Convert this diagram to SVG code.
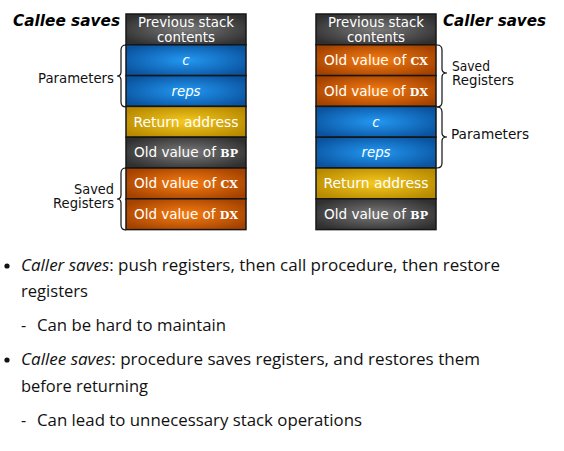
<svg xmlns="http://www.w3.org/2000/svg" width="564" height="451" viewBox="0 0 564 451">
<defs>
<radialGradient id="gGray" cx="0.5" cy="0.5" r="0.6"><stop offset="0" stop-color="#7a7a7a"/><stop offset="1" stop-color="#303030"/></radialGradient>
<radialGradient id="gBlue" cx="0.5" cy="0.5" r="0.6"><stop offset="0" stop-color="#2398f2"/><stop offset="1" stop-color="#0a539f"/></radialGradient>
<radialGradient id="gYellow" cx="0.5" cy="0.5" r="0.6"><stop offset="0" stop-color="#f6c920"/><stop offset="1" stop-color="#b88a00"/></radialGradient>
<radialGradient id="gOrange" cx="0.5" cy="0.5" r="0.6"><stop offset="0" stop-color="#f77e12"/><stop offset="1" stop-color="#a54200"/></radialGradient>
<style>
.box{stroke:#161616;stroke-width:1.5}
.gray{fill:url(#gGray)}.blue{fill:url(#gBlue)}.yellow{fill:url(#gYellow)}.orange{fill:url(#gOrange)}
.bt{font-family:"DejaVu Sans",Verdana,sans-serif;font-size:13.5px;fill:#ffffff;text-anchor:middle}
.it{font-style:italic}
.sc{font-family:"DejaVu Serif","Liberation Serif",serif;font-size:11px;font-weight:bold}
.lbl{font-family:"DejaVu Sans",Verdana,sans-serif;font-size:13.3px;fill:#111}
.title{font-family:"DejaVu Sans",Verdana,sans-serif;font-size:15px;font-weight:bold;font-style:italic;fill:#000}
.brace{fill:none;stroke:#111;stroke-width:1.2}
.body{font-family:"Open Sans",Roboto,"Liberation Sans",sans-serif;font-size:16px;fill:#111}
</style>
</defs>
<rect width="564" height="451" fill="#ffffff"/>

<text class="title" x="13" y="26" textLength="107" lengthAdjust="spacingAndGlyphs">Callee saves</text>
<text class="title" x="443" y="26" textLength="103" lengthAdjust="spacingAndGlyphs">Caller saves</text>

<g id="left-stack">
<g id="l-prev"><rect class="box gray" x="126" y="14" width="120" height="30.8"/><text class="bt" x="186" y="26.5" textLength="96" lengthAdjust="spacingAndGlyphs">Previous stack</text><text class="bt" x="186" y="42" textLength="58" lengthAdjust="spacingAndGlyphs">contents</text></g>
<g id="l-c"><rect class="box blue" x="126" y="44.8" width="120" height="30.8"/><text class="bt it" x="186" y="65">c</text></g>
<g id="l-reps"><rect class="box blue" x="126" y="75.6" width="120" height="30.8"/><text class="bt it" x="186" y="95.8" textLength="29" lengthAdjust="spacingAndGlyphs">reps</text></g>
<g id="l-ret"><rect class="box yellow" x="126" y="106.4" width="120" height="30.8"/><text class="bt" x="186" y="126.6" textLength="105" lengthAdjust="spacingAndGlyphs">Return address</text></g>
<g id="l-bp"><rect class="box gray" x="126" y="137.2" width="120" height="30.8"/><text class="bt" x="186" y="157.4" textLength="104" lengthAdjust="spacingAndGlyphs">Old value of <tspan class="sc">BP</tspan></text></g>
<g id="l-cx"><rect class="box orange" x="126" y="168" width="120" height="30.8"/><text class="bt" x="186" y="188.2" textLength="104" lengthAdjust="spacingAndGlyphs">Old value of <tspan class="sc">CX</tspan></text></g>
<g id="l-dx"><rect class="box orange" x="126" y="198.8" width="120" height="30.8"/><text class="bt" x="186" y="219" textLength="104" lengthAdjust="spacingAndGlyphs">Old value of <tspan class="sc">DX</tspan></text></g>
</g>

<g id="right-stack">
<g id="r-prev"><rect class="box gray" x="316" y="14" width="120" height="30.8"/><text class="bt" x="376" y="26.5" textLength="96" lengthAdjust="spacingAndGlyphs">Previous stack</text><text class="bt" x="376" y="42" textLength="58" lengthAdjust="spacingAndGlyphs">contents</text></g>
<g id="r-cx"><rect class="box orange" x="316" y="44.8" width="120" height="30.8"/><text class="bt" x="376" y="65" textLength="104" lengthAdjust="spacingAndGlyphs">Old value of <tspan class="sc">CX</tspan></text></g>
<g id="r-dx"><rect class="box orange" x="316" y="75.6" width="120" height="30.8"/><text class="bt" x="376" y="95.8" textLength="104" lengthAdjust="spacingAndGlyphs">Old value of <tspan class="sc">DX</tspan></text></g>
<g id="r-c"><rect class="box blue" x="316" y="106.4" width="120" height="30.8"/><text class="bt it" x="376" y="126.6">c</text></g>
<g id="r-reps"><rect class="box blue" x="316" y="137.2" width="120" height="30.8"/><text class="bt it" x="376" y="157.4" textLength="29" lengthAdjust="spacingAndGlyphs">reps</text></g>
<g id="r-ret"><rect class="box yellow" x="316" y="168" width="120" height="30.8"/><text class="bt" x="376" y="188.2" textLength="105" lengthAdjust="spacingAndGlyphs">Return address</text></g>
<g id="r-bp"><rect class="box gray" x="316" y="198.8" width="120" height="30.8"/><text class="bt" x="376" y="219" textLength="104" lengthAdjust="spacingAndGlyphs">Old value of <tspan class="sc">BP</tspan></text></g>
</g>

<g id="connectors">
<path class="brace" d="M126 45 Q121 45 121 50 L121 72 Q121 76 117 76 Q121 76 121 80 L121 102 Q121 107 126 107"/>
<path class="brace" d="M126 168 Q121 168 121 173 L121 195 Q121 199 117 199 Q121 199 121 203 L121 225 Q121 230 126 230"/>
<path class="brace" d="M437 45 Q442 45 442 50 L442 69 Q442 73 447 73 Q442 73 442 77 L442 102 Q442 107 437 107"/>
<path class="brace" d="M437 107 Q442 107 442 112 L442 133 Q442 137 447 137 Q442 137 442 141 L442 163 Q442 168 437 168"/>
</g>

<g id="labels">
<text class="lbl" x="114" y="83" text-anchor="end" textLength="76" lengthAdjust="spacingAndGlyphs">Parameters</text>
<text class="lbl" x="114" y="194" text-anchor="end" textLength="40" lengthAdjust="spacingAndGlyphs">Saved</text>
<text class="lbl" x="114" y="208" text-anchor="end" textLength="61" lengthAdjust="spacingAndGlyphs">Registers</text>
<text class="lbl" x="452" y="71" textLength="38" lengthAdjust="spacingAndGlyphs">Saved</text>
<text class="lbl" x="452" y="85" textLength="62" lengthAdjust="spacingAndGlyphs">Registers</text>
<text class="lbl" x="451" y="139" textLength="78" lengthAdjust="spacingAndGlyphs">Parameters</text>
</g>

<g id="bullets">
<circle cx="7" cy="266" r="2.6" fill="#111"/>
<text class="body" x="21" y="271" textLength="479" lengthAdjust="spacingAndGlyphs"><tspan font-style="italic">Caller saves</tspan>: push registers, then call procedure, then restore</text>
<text class="body" x="21" y="297" textLength="67" lengthAdjust="spacingAndGlyphs">registers</text>
<text class="body" x="21" y="331">-</text>
<text class="body" x="37" y="331" textLength="189" lengthAdjust="spacingAndGlyphs">Can be hard to maintain</text>
<circle cx="7" cy="360" r="2.6" fill="#111"/>
<text class="body" x="21" y="365" textLength="459" lengthAdjust="spacingAndGlyphs"><tspan font-style="italic">Callee saves</tspan>: procedure saves registers, and restores them</text>
<text class="body" x="21" y="392" textLength="127" lengthAdjust="spacingAndGlyphs">before returning</text>
<text class="body" x="21" y="426">-</text>
<text class="body" x="37" y="426" textLength="325" lengthAdjust="spacingAndGlyphs">Can lead to unnecessary stack operations</text>
</g>
</svg>
